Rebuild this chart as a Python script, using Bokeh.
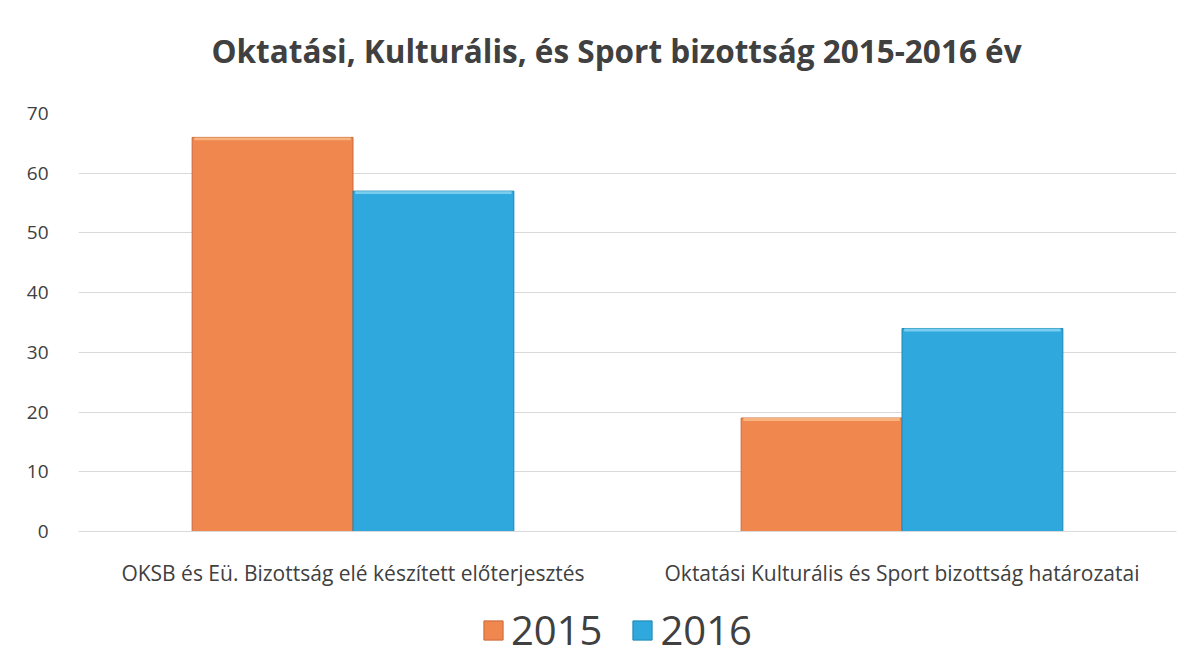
from bokeh.plotting import figure
from bokeh.layouts import column
from bokeh.models import ColumnDataSource, Legend, LegendItem, FactorRange, Label
from bokeh.transform import dodge
from bokeh.embed import file_html
from bokeh.resources import INLINE

categories = ["OKSB és Eü. Bizottság elé készített előterjesztés",
              "Oktatási Kulturális és Sport bizottság határozatai"]
values_2015 = [66, 19]
values_2016 = [57, 34]
series_names = ["2015", "2016"]
title_text = "Oktatási, Kulturális, és Sport bizottság 2015-2016 év"

FONT = "Open Sans"
ORANGE = "#F0874F"
BLUE = "#2FA9DD"
ORANGE_EDGE = "#C9683A"
BLUE_EDGE = "#1C86B3"
ORANGE_HI = "#F7B47F"
BLUE_HI = "#79CDEE"
W = 1196
BL, BR = 78, 20

# ---- title strip ----
tt = figure(width=W, height=100, x_range=(0, 1), y_range=(0, 1),
            output_backend="svg", toolbar_location=None,
            x_axis_type=None, y_axis_type=None,
            min_border_left=BL, min_border_right=BR, min_border_top=0, min_border_bottom=0)
tt.outline_line_color = None
tt.xgrid.visible = False
tt.ygrid.visible = False
tt.add_layout(Label(x=0.49, y=0.5, text=title_text, text_align="center",
                    text_baseline="middle", text_font=FONT, text_font_size="31.5px",
                    text_font_style="bold", text_color="#404040"))

# ---- main chart ----
src = ColumnDataSource(dict(cat=categories, v15=values_2015, v16=values_2016,
                            h15=[v - 0.5 for v in values_2015],
                            h16=[v - 0.5 for v in values_2016]))

p = figure(frame_width=1098, frame_height=418,
           x_range=FactorRange(*categories, range_padding=0),
           y_range=(0, 70), output_backend="svg", toolbar_location=None,
           min_border_left=BL, min_border_right=BR, min_border_top=13, min_border_bottom=68)

p.vbar(x=dodge("cat", -0.1465, range=p.x_range), top="v15", width=0.293, source=src,
       fill_color=ORANGE, line_color=ORANGE_EDGE, line_width=1)
p.vbar(x=dodge("cat", 0.1465, range=p.x_range), top="v16", width=0.293, source=src,
       fill_color=BLUE, line_color=BLUE_EDGE, line_width=1)
# bevel highlight along the top edge of each bar
p.vbar(x=dodge("cat", -0.1465, range=p.x_range), top="v15", bottom="h15", width=0.285,
       source=src, fill_color=ORANGE_HI, line_color=None)
p.vbar(x=dodge("cat", 0.1465, range=p.x_range), top="v16", bottom="h16", width=0.285,
       source=src, fill_color=BLUE_HI, line_color=None)

p.outline_line_color = None
p.xgrid.grid_line_color = None
p.ygrid.grid_line_color = "#D9D9D9"
p.yaxis.ticker = [0, 10, 20, 30, 40, 50, 60, 70]
p.yaxis.axis_line_color = None
p.yaxis.major_tick_line_color = None
p.yaxis.minor_tick_line_color = None
p.yaxis.major_label_text_font = FONT
p.yaxis.major_label_text_font_size = "19px"
p.yaxis.major_label_text_color = "#404040"
p.yaxis.major_label_standoff = 24
p.xaxis.axis_line_color = "#D9D9D9"
p.xaxis.major_tick_line_color = None
p.xaxis.minor_tick_line_color = None
p.xaxis.major_label_text_font = FONT
p.xaxis.major_label_text_font_size = "21px"
p.xaxis.major_label_text_color = "#404040"
p.xaxis.major_label_standoff = 21

# ---- legend strip (swatch renderers sit outside the strip's visible range) ----
lg = figure(width=W, height=62, x_range=(0, 1), y_range=(0, 1),
            output_backend="svg", toolbar_location=None,
            x_axis_type=None, y_axis_type=None,
            min_border_left=BL, min_border_right=BR, min_border_top=0, min_border_bottom=0)
lg.outline_line_color = None
lg.xgrid.visible = False
lg.ygrid.visible = False
d1 = lg.vbar(x=[-5], top=[-5], bottom=[-6], width=0.1, fill_color=ORANGE, line_color=ORANGE_EDGE)
d2 = lg.vbar(x=[-5], top=[-5], bottom=[-6], width=0.1, fill_color=BLUE, line_color=BLUE_EDGE)
legend = Legend(items=[LegendItem(label=series_names[0], renderers=[d1]),
                       LegendItem(label=series_names[1], renderers=[d2])],
                orientation="horizontal", location=(403, 4),
                label_text_font=FONT, label_text_font_size="40px", label_text_color="#404040",
                glyph_width=24, glyph_height=24, spacing=28, border_line_color=None,
                background_fill_alpha=0, margin=0, padding=0, label_standoff=6,
                label_height=40)
lg.add_layout(legend)

layout = column(tt, p, lg, spacing=0)
open("out.html", "w").write(file_html(layout, INLINE))
